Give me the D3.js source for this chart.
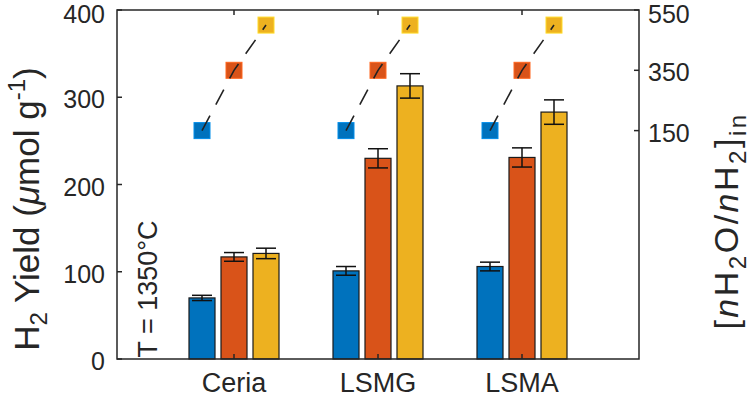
<!DOCTYPE html>
<html><head><meta charset="utf-8">
<script src="https://cdn.jsdelivr.net/npm/d3@7"></script>
<style>body{margin:0;background:#fff}svg{display:block}text{font-family:"Liberation Sans",Arial,sans-serif;fill:#262626}</style>
</head><body>
<svg id="chart" width="750" height="399"></svg>
<script>
const categories = ["Ceria", "LSMG", "LSMA"];
const seriesColors = ["#0072BD", "#D95319", "#EDB120"];
const yieldValues = [[70, 117, 121], [101, 230, 313], [106, 231, 283]];
const yieldErrors = [[3, 5, 6], [5, 11, 14], [5, 11, 14]];
const ratioValues = [150, 350, 500];
const leftTicks = [0, 100, 200, 300, 400];
const rightTicks = [150, 350, 550];

const svg = d3.select("#chart");
const L = 117, R = 639, T = 10, B = 359;
const axisColor = "#262626";

const x = d3.scalePoint().domain(categories).range([L, R]).padding(0.8125);
const yL = d3.scaleLinear().domain([0, 400]).range([B, T]);
const yR = d3.scaleLinear().domain([-607.5, 550]).range([B, T]);
const off = d3.scaleLinear().domain([0, 2]).range([-32, 32]);
const barW = 26;

const g = svg.append("g");
categories.forEach((c, ci) => {
  yieldValues[ci].forEach((v, si) => {
    const cx = x(c) + off(si);
    g.append("rect").attr("x", cx - barW / 2).attr("y", yL(v)).attr("width", barW)
      .attr("height", yL(0) - yL(v)).attr("fill", seriesColors[si])
      .attr("stroke", "#1a1a1a").attr("stroke-width", 1.2);
  });
});
categories.forEach((c, ci) => {
  yieldValues[ci].forEach((v, si) => {
    const cx = x(c) + off(si), e = yieldErrors[ci][si];
    const eg = g.append("g").attr("stroke", "#111").attr("stroke-width", 1.5);
    eg.append("line").attr("x1", cx).attr("x2", cx).attr("y1", yL(v - e)).attr("y2", yL(v + e));
    [v - e, v + e].forEach(t => eg.append("line").attr("x1", cx - 10).attr("x2", cx + 10).attr("y1", yL(t)).attr("y2", yL(t)));
  });
});
categories.forEach((c, ci) => {
  const pts = ratioValues.map((r, si) => [x(c) + off(si), yR(r)]);
  pts.forEach((p, si) => {
    g.append("rect").attr("x", p[0] - 8).attr("y", p[1] - 8).attr("width", 16).attr("height", 16)
      .attr("fill", seriesColors[si]).attr("stroke", d3.color(seriesColors[si]).brighter(0.6)).attr("stroke-width", 1);
  });
  g.append("path").attr("d", d3.line()(pts)).attr("fill", "none").attr("stroke", "#222")
    .attr("stroke-width", 1.6).attr("stroke-dasharray", "17,12.5");
});

const ax = svg.append("g").attr("stroke", axisColor).attr("stroke-width", 1.5).attr("fill", "none");
ax.append("rect").attr("x", L).attr("y", T).attr("width", R - L).attr("height", B - T);
leftTicks.forEach(t => ax.append("line").attr("x1", L).attr("x2", L + 5).attr("y1", yL(t)).attr("y2", yL(t)));
rightTicks.forEach(t => ax.append("line").attr("x1", R).attr("x2", R - 5).attr("y1", yR(t)).attr("y2", yR(t)));
categories.forEach(c => {
  ax.append("line").attr("x1", x(c)).attr("x2", x(c)).attr("y1", B).attr("y2", B - 5);
  ax.append("line").attr("x1", x(c)).attr("x2", x(c)).attr("y1", T).attr("y2", T + 5);
});

const fs = 25;
svg.append("g").selectAll("text").data(leftTicks).join("text")
  .attr("x", L - 12).attr("y", d => Math.max(yL(d) + 2, 14))
  .attr("dy", "0.36em").attr("text-anchor", "end").attr("font-size", fs).text(d => d);
svg.append("g").selectAll("text").data(rightTicks).join("text")
  .attr("x", R + 9).attr("y", d => Math.max(yR(d) + 2, 14))
  .attr("dy", "0.36em").attr("text-anchor", "start").attr("font-size", fs).text(d => d);
svg.append("g").selectAll("text").data(categories).join("text")
  .attr("x", d => x(d)).attr("y", 392)
  .attr("text-anchor", "middle").attr("font-size", 27).text(d => d);

const yl = svg.append("text").attr("transform", "translate(39,209) rotate(-90)")
  .attr("text-anchor", "middle").attr("font-size", 35);
yl.append("tspan").text("H");
yl.append("tspan").attr("font-size", 24).attr("dy", 8).text("2");
yl.append("tspan").attr("dy", -8).text(" Yield (");
yl.append("tspan").attr("font-style", "italic").text("\u03BC");
yl.append("tspan").text("mol g");
yl.append("tspan").attr("font-size", 24).attr("dy", -14).text("-1");
yl.append("tspan").attr("dy", 14).text(")");

const rl = svg.append("text").attr("transform", "translate(738,221) rotate(-90)")
  .attr("text-anchor", "middle").attr("font-size", 34).attr("letter-spacing", 2.5);
rl.append("tspan").text("[");
rl.append("tspan").attr("font-style", "italic").text("n");
rl.append("tspan").text("H");
rl.append("tspan").attr("font-size", 24).attr("dy", 8).text("2");
rl.append("tspan").attr("dy", -8).text("O/");
rl.append("tspan").attr("font-style", "italic").text("n");
rl.append("tspan").text("H");
rl.append("tspan").attr("font-size", 24).attr("dy", 8).text("2");
rl.append("tspan").attr("dy", -8).text("]");
rl.append("tspan").attr("font-size", 24).attr("dy", 8).text("in");

svg.append("text").attr("transform", "translate(157,289) rotate(-90)")
  .attr("text-anchor", "middle").attr("font-size", 27).text("T = 1350\u00B0C");
</script>
</body></html>
